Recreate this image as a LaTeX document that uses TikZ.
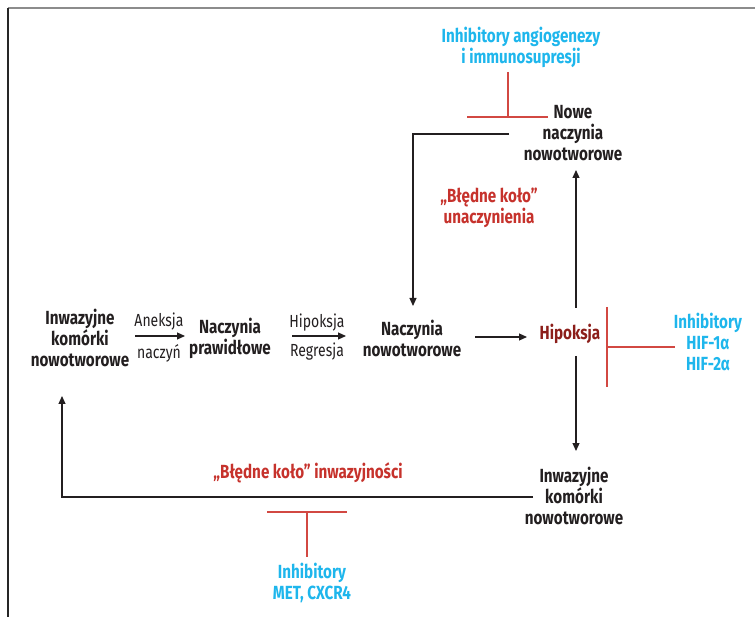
\documentclass[tikz,border=0pt]{standalone}
\usepackage{fontspec}
\setmainfont[FakeStretch=0.8]{Fira Sans}
\usetikzlibrary{arrows.meta}
\definecolor{cy}{RGB}{30,182,236}
\definecolor{rt}{RGB}{198,50,44}
\definecolor{dr}{RGB}{140,30,26}
\definecolor{rl}{RGB}{210,72,66}
\definecolor{tx}{RGB}{35,31,32}
\tikzset{
  bt/.style={text=tx, align=center, inner sep=0pt, font=\fontsize{19}{21}\selectfont\bfseries},
  ct/.style={bt, text=cy},
  rtx/.style={bt, text=rt},
  lt/.style={text=tx, inner sep=0pt, font=\fontsize{17.5}{19}\selectfont},
  arr/.style={draw=tx, line width=1.2pt, -{Triangle[length=8pt,width=7pt]}},
  ln/.style={draw=tx, line width=1.2pt},
  inh/.style={draw=rl, line width=1.2pt},
}
\begin{document}
\begin{tikzpicture}[x=1pt,y=-1pt]
\useasboundingbox (0,0) rectangle (755,617);
% frame
\draw[draw=gray!90, line width=1.5pt] (8,8) -- (755,8);
\draw[draw=black!85, line width=1.5pt] (8,8) -- (8,617);

% nodes
\node[bt] (inv1) at (80,338) {Inwazyjne\\komórki\\nowotworowe};
\node[bt] (naczp) at (230,338) {Naczynia\\prawidłowe};
\node[bt] (naczn) at (412,338) {Naczynia\\nowotworowe};
\node[bt, text=dr] (hip) at (570,334) {Hipoksja};
\node[bt] (nowe) at (573,133) {Nowe\\naczynia\\nowotworowe};
\node[bt] (inv2) at (574,496) {Inwazyjne\\komórki\\nowotworowe};

\node[lt] (anek) at (159,322) {Aneksja};
\node[lt] (nacz) at (159,353) {naczyń};
\node[lt] (hipl) at (317,323) {Hipoksja};
\node[lt] (regr) at (317,352) {Regresja};

\node[ct] (inhA) at (521,47) {Inhibitory angiogenezy\\i immunosupresji};
\node[ct] (inhH) at (708,342) {Inhibitory\\HIF-1α\\HIF-2α};
\node[ct] (inhM) at (312,583) {Inhibitory\\MET, CXCR4};

\node[rtx] (vc1) at (489,208) {„Błędne koło”\\unaczynienia};
\node[rtx] (vc2) at (308,473) {„Błędne koło” inwazyjności};

% connector end points
\coordinate (a1s) at (135,336);
\coordinate (a1e) at (185,336);
\coordinate (a2s) at (292,336);
\coordinate (a2e) at (346,336);
\coordinate (a3s) at (475,337);
\coordinate (a3e) at (527,337);
\coordinate (upS) at (576,308);
\coordinate (upE) at (576,170);
\coordinate (dnS) at (576,356);
\coordinate (dnE) at (576,451);
\coordinate (t1) at (509,134);
\coordinate (t2) at (413,134);
\coordinate (t3) at (413,306);
\coordinate (b1) at (533,497);
\coordinate (b2) at (62,497);
\coordinate (b3) at (62,396);

\draw[arr] (a1s) -- (a1e);
\draw[arr] (a2s) -- (a2e);
\draw[arr] (a3s) -- (a3e);
\draw[arr] (upS) -- (upE);
\draw[arr] (dnS) -- (dnE);
\draw[arr] (t1) -- (t2) -- (t3);
\draw[arr] (b1) -- (b2) -- (b3);

% inhibitor bars
\coordinate (iA1) at (508,72);
\coordinate (iA2) at (508,117);
\coordinate (iAl) at (467,117);
\coordinate (iAr) at (548,117);
\draw[inh] (iA1) -- (iA2);
\draw[inh] (iAl) -- (iAr);

\coordinate (iHt) at (607,307);
\coordinate (iHb) at (607,387);
\coordinate (iHm) at (607,347);
\coordinate (iHr) at (675,347);
\draw[inh] (iHt) -- (iHb);
\draw[inh] (iHm) -- (iHr);

\coordinate (iMl) at (267,512);
\coordinate (iMr) at (347,512);
\coordinate (iMt) at (307,512);
\coordinate (iMb) at (307,557);
\draw[inh] (iMl) -- (iMr);
\draw[inh] (iMt) -- (iMb);
\end{tikzpicture}
\end{document}
